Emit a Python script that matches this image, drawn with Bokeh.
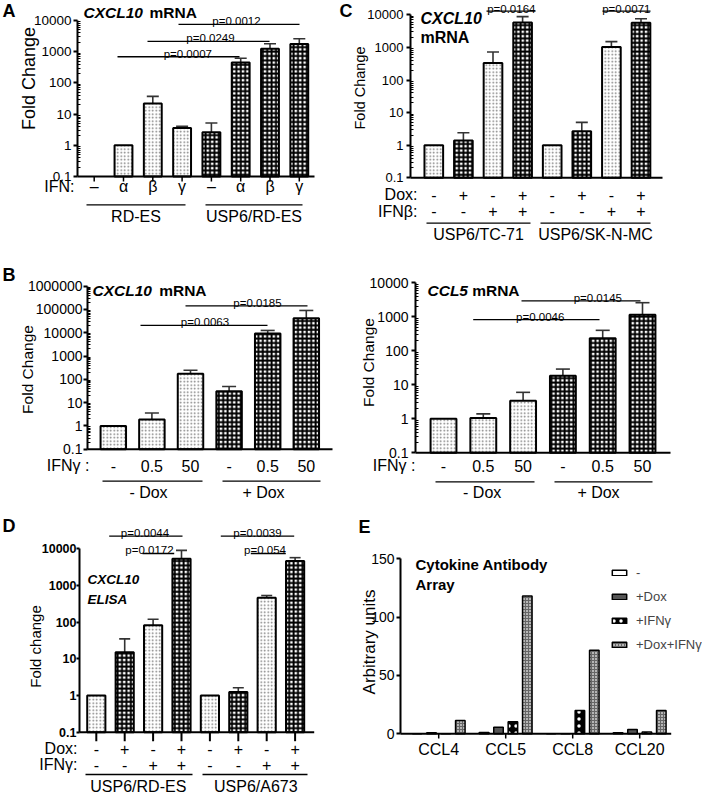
import math
from bokeh.plotting import figure
from bokeh.layouts import column, row
from bokeh.models import (Range1d, FixedTicker, CustomJSTickFormatter, Label,
                          ColumnDataSource, Whisker, TeeHead, Legend, LegendItem)
from bokeh.embed import file_html
from bokeh.resources import INLINE
from bokeh.core.properties import value

NAN = float("nan")
FONT = "Liberation Sans"

# ============================ DATA ============================
# Panel A : CXCL10 mRNA, RD-ES vs USP6/RD-ES treated with IFN
a_ifn = ["–", "α", "β", "γ", "–", "α", "β", "γ"]
a_group = ["RD-ES", "USP6/RD-ES"]
a_fold = [NAN, 1.0, 22.0, 3.6, 2.6, 450.0, 1250.0, 1750.0]
a_err = [NAN, NAN, 37.0, 4.1, 5.2, 620.0, 1800.0, 2600.0]
a_usp6 = [0, 0, 0, 0, 1, 1, 1, 1]
a_p = ["p=0.0007", "p=0.0249", "p=0.0012"]
a_p_level = [690.0, 2150.0, 7550.0]

# Panel C : CXCL10 mRNA, Dox / IFNbeta
c_dox = ["-", "+", "-", "+", "-", "+", "-", "+"]
c_ifnb = ["-", "-", "+", "+", "-", "-", "+", "+"]
c_group = ["USP6/TC-71", "USP6/SK-N-MC"]
c_fold = [1.0, 1.4, 330.0, 5800.0, 1.0, 2.7, 1030.0, 5700.0]
c_err = [NAN, 2.4, 720.0, 8800.0, NAN, 5.0, 1500.0, 7600.0]
c_p = ["p=0.0164", "p=0.0071"]
c_p_level = [12900.0, 12900.0]

# Panel B : IFNgamma dose, -/+ Dox
b_ifng = ["-", "0.5", "50", "-", "0.5", "50"]
b_group = ["- Dox", "+ Dox"]
b_dox = [0, 0, 0, 1, 1, 1]
b1_fold = [1.0, 1.9, 175.0, 31.0, 9200.0, 42000.0]
b1_err = [NAN, 3.6, 245.0, 49.0, 12500.0, 90000.0]
b1_p = ["p=0.0063", "p=0.0185"]
b1_p_level = [20800.0, 141000.0]
b2_fold = [1.0, 1.05, 3.4, 18.5, 235.0, 1150.0]
b2_err = [NAN, 1.4, 6.0, 29.0, 400.0, 2600.0]
b2_p = ["p=0.0046", "p=0.0145"]
b2_p_level = [830.0, 2950.0]

# Panel D : CXCL10 ELISA
d_dox = ["-", "+", "-", "+", "-", "+", "-", "+"]
d_ifng = ["-", "-", "+", "+", "-", "-", "+", "+"]
d_group = ["USP6/RD-ES", "USP6/A673"]
d_fold = [1.0, 15.0, 82.0, 5300.0, 1.0, 1.25, 460.0, 4600.0]
d_err = [NAN, 35.0, 120.0, 9000.0, NAN, 1.62, 530.0, 5700.0]
d_p = ["p=0.0044", "p=0.0172", "p=0.0039", "p=0.054"]
d_p_level = [21900.0, 7400.0, 21900.0, 7400.0]

# Panel E : cytokine antibody array
e_cats = ["CCL4", "CCL5", "CCL8", "CCL20"]
e_series = ["-", "+Dox", "+IFNγ", "+Dox+IFNγ"]
e_none = [0.0, 1.2, 0.0, 1.0]
e_dox = [1.0, 5.7, 0.0, 3.7]
e_ifng = [0.0, 10.3, 20.0, 1.5]
e_both = [11.4, 118.0, 71.5, 20.0]

# ============================ STYLE / LAYOUT ============================
DOT = dict(fill_color="white", hatch_pattern="dot", hatch_color="#7a7a7a",
           hatch_scale=3.5, hatch_weight=1.0)
CHK = dict(fill_color="white", hatch_pattern="cross", hatch_color="black",
           hatch_scale=4.4, hatch_weight=1.9)
E_STY = [dict(fill_color="white"),
         dict(fill_color="#555555"),
         dict(fill_color="black", hatch_pattern="dot", hatch_color="white",
              hatch_scale=7, hatch_weight=3),
         dict(fill_color="#b5b5b5", hatch_pattern="cross", hatch_color="#666666",
              hatch_scale=3, hatch_weight=1)]


class Geo:
    """pixel geometry of one panel (reference-image coordinates)"""
    def __init__(s, ox, mt, w, h, fl, fr, y0, dec, x0, sp):
        s.ox, s.mt, s.w, s.h, s.fl, s.fr = ox, mt, w, h, fl, fr
        s.y0, s.dec, s.x0, s.sp = y0, dec, x0, sp

    def xd(s, px):
        return (px - s.x0) / s.sp

    def yd(s, py):
        return 10.0 ** (-1.0 + (s.y0 - py) / s.dec)


class LinGeo(Geo):
    def yd(s, py):
        return (s.y0 - py) / s.dec


def base_fig(g, log=True):
    kw = dict(width=g.w, height=g.h, output_backend="svg", toolbar_location=None,
              x_axis_location=None, title=None,
              x_range=Range1d(g.xd(g.ox), g.xd(g.ox + g.w)),
              y_range=Range1d(g.yd(g.mt + g.h), g.yd(g.mt)),
              min_border_left=0, min_border_right=0,
              min_border_top=0, min_border_bottom=0)
    if log:
        kw["y_axis_type"] = "log"
    p = figure(**kw)
    p.outline_line_color = None
    p.grid.visible = False
    p.background_fill_color = "white"
    p.border_fill_color = "white"
    p.yaxis[0].fixed_location = g.xd(g.fl)
    return p


def style_yaxis(p, ticks, minors, bounds, size, bold=False, tick_out=4, standoff=2, fmt=None):
    ax = p.yaxis[0]
    ax.ticker = FixedTicker(ticks=ticks, minor_ticks=minors)
    ax.bounds = bounds
    if fmt is not None:
        ax.formatter = fmt
    ax.axis_line_width = 2
    ax.axis_line_color = "black"
    ax.major_tick_line_width = 2
    ax.major_tick_line_color = "black"
    ax.major_tick_out = tick_out
    ax.major_tick_in = 0
    ax.minor_tick_line_width = 1
    ax.minor_tick_line_color = "black"
    ax.minor_tick_out = 0
    ax.minor_tick_in = 3
    ax.major_label_text_font = FONT
    ax.major_label_text_font_size = size
    ax.major_label_text_font_style = "bold" if bold else "normal"
    ax.major_label_text_color = "black"
    ax.major_label_standoff = standoff


def log_ticks(top_exp, with_minor=True):
    majors = [10.0 ** k for k in range(-1, top_exp + 1)]
    minors = [m * 10.0 ** k for k in range(-1, top_exp) for m in range(2, 10)] if with_minor else []
    return majors, minors


LOGFMT = CustomJSTickFormatter(code="return tick < 1 ? tick.toFixed(1) : tick.toFixed(0);")


def T(p, xs, ys, texts, size, style="normal", align="center", baseline="middle", yoff=0):
    p.text(x=list(xs), y=list(ys), text=list(texts), text_font=value(FONT),
           text_font_size=value(size), text_font_style=value(style),
           text_align=value(align), text_baseline=value(baseline),
           text_color="black", y_offset=yoff)


def L(p, x, y, text, size, style="normal", align="left", baseline="middle", angle=0.0):
    p.add_layout(Label(x=x, y=y, text=text, text_font=FONT, text_font_size=size,
                       text_font_style=style, text_align=align, text_baseline=baseline,
                       angle=angle, text_color="black"))


def seg(p, x0, x1, y0, y1, w=1.3):
    p.segment(x0=list(x0), x1=list(x1), y0=list(y0), y1=list(y1),
              line_color="black", line_width=w)


def bars(p, fold, err, flags, bw, cap, base=0.1):
    xs = list(range(len(fold)))
    for flag, sty in ((0, DOT), (1, CHK)):
        idx = [i for i in xs if flags[i] == flag and not math.isnan(fold[i])]
        src = ColumnDataSource(dict(x=idx, top=[fold[i] for i in idx]))
        p.vbar(x="x", top="top", bottom=base, width=bw, source=src,
               line_color="black", line_width=2, **sty)
    ei = [i for i in xs if not math.isnan(err[i])]
    esrc = ColumnDataSource(dict(x=ei, top=[fold[i] for i in ei], err=[err[i] for i in ei]))
    p.add_layout(Whisker(source=esrc, base="x", lower="top", upper="err", dimension="height",
                         upper_head=TeeHead(size=cap, line_color="#333333", line_width=1.6),
                         lower_head=None, line_color="#333333", line_width=1.6))


def pvals(p, g, texts, levels, spans, size="11.5px", yoff=-3):
    seg(p, [g.xd(a) for a, b, c in spans], [g.xd(b) for a, b, c in spans], levels, levels, 1.3)
    T(p, [g.xd(c) for a, b, c in spans], levels, texts, size, baseline="alphabetic", yoff=yoff)


def groups(p, g, names, spans, line_y, label_y, label_x, size="16px"):
    seg(p, [g.xd(a) for a, b in spans], [g.xd(b) for a, b in spans],
        [g.yd(line_y)] * len(spans), [g.yd(line_y)] * len(spans), 1.3)
    T(p, [g.xd(x) for x in label_x], [g.yd(label_y)] * len(names), names, size)


HALF_PI = math.pi / 2
LETTER = "18px"

# ---------------------------- Panel A ----------------------------
gA = Geo(8, 5, 337, 243, 85, 343, 181.0, 31.2, 101.7, 29.3)
pA = base_fig(gA)
mj, mn = log_ticks(4)
style_yaxis(pA, mj, mn, (0.1, 1e4), "13.5px", fmt=LOGFMT)
bars(pA, a_fold, a_err, a_usp6, 0.61, 12)
seg(pA, [gA.xd(85)], [gA.xd(322)], [0.1], [0.1], 2)
seg(pA, range(len(a_fold)), range(len(a_fold)), [0.1] * 8, [gA.yd(186)] * 8, 1.5)
T(pA, range(len(a_ifn)), [gA.yd(191)] * 8, a_ifn, "16px")
L(pA, gA.xd(82), gA.yd(191), "IFN:", "16px", align="right")
groups(pA, gA, a_group, [(94, 193), (213, 310)], 209.3, 220.5, [143.5, 261.5])
pvals(pA, gA, a_p, a_p_level, [(125, 247, 195.3), (155, 277, 218), (186, 307, 244)])
T(pA, [gA.xd(91)], [gA.yd(17)], ["CXCL10"], "15.5px", "bold italic", align="left")
T(pA, [gA.xd(157)], [gA.yd(17)], ["mRNA"], "15.5px", "bold", align="left")
L(pA, gA.xd(36), gA.yd(83), "Fold Change", "18px", align="center", angle=HALF_PI)
L(pA, gA.xd(10), gA.yd(15.5), "A", LETTER, "bold")

# ---------------------------- Panel C ----------------------------
gC = Geo(345, 5, 365, 243, 418, 708, 182.3, 32.6, 441.3, 29.6)
pC = base_fig(gC)
style_yaxis(pC, mj, mn, (0.1, 1e4), "13px", tick_out=4, standoff=3, fmt=LOGFMT)
c_flag = [1 if d == "+" else 0 for d in c_dox]
bars(pC, c_fold, c_err, c_flag, 0.63, 12)
seg(pC, [gC.xd(418)], [gC.xd(670)], [0.1], [0.1], 2)
T(pC, range(8), [gC.yd(199)] * 8, c_dox, "16px")
T(pC, range(8), [gC.yd(215.7)] * 8, c_ifnb, "16px")
L(pC, gC.xd(425), gC.yd(199), "Dox:", "16px", align="right")
L(pC, gC.xd(425), gC.yd(215.7), "IFNβ:", "16px", align="right")
groups(pC, gC, c_group, [(434, 538), (548, 658)], 227.7, 238.5, [486, 603])
pvals(pC, gC, c_p, c_p_level, [(494, 543, 518.8), (610, 658, 633.8)], yoff=-2)
T(pC, [gC.xd(428)], [gC.yd(23)], ["CXCL10"], "16px", "bold italic", align="left")
T(pC, [gC.xd(428)], [gC.yd(42)], ["mRNA"], "16px", "bold", align="left")
L(pC, gC.xd(367), gC.yd(92.5), "Fold Change", "14.5px", align="center", angle=HALF_PI)
L(pC, gC.xd(347), gC.yd(15.5), "C", LETTER, "bold")

# ---------------------------- Panel B (left) ----------------------------
gB1 = Geo(8, 255, 337, 262, 95, 343, 460.7, 23.3, 120.8, 38.6)
pB1 = base_fig(gB1)
mj6, mn6 = log_ticks(6)
style_yaxis(pB1, mj6, mn6, (0.1, 1e6), "14px", tick_out=4, standoff=1, fmt=LOGFMT)
bars(pB1, b1_fold, b1_err, b_dox, 0.66, 14)
seg(pB1, [gB1.xd(95)], [gB1.xd(340)], [0.1], [0.1], 2)
T(pB1, range(6), [gB1.yd(477)] * 6, b_ifng, "16px")
L(pB1, gB1.xd(97), gB1.yd(477), "IFNγ :", "16px", align="right")
groups(pB1, gB1, b_group, [(110, 210), (230, 328)], 492.7, 503.5, [156, 271])
pvals(pB1, gB1, b1_p, b1_p_level, [(148, 275, 212.5), (193, 315, 265)])
T(pB1, [gB1.xd(100)], [gB1.yd(301.7)], ["CXCL10"], "15.5px", "bold italic", align="left")
T(pB1, [gB1.xd(166.7)], [gB1.yd(301.7)], ["mRNA"], "15.5px", "bold", align="left")
L(pB1, gB1.xd(35), gB1.yd(381), "Fold Change", "15.5px", align="center", angle=HALF_PI)
L(pB1, gB1.xd(10), gB1.yd(286), "B", LETTER, "bold")

# ---------------------------- Panel B (right) ----------------------------
gB2 = Geo(345, 255, 365, 262, 423, 708, 464.3, 34.0, 451.0, 39.8)
pB2 = base_fig(gB2)
style_yaxis(pB2, mj, mn, (0.1, 1e4), "14px", tick_out=4, standoff=3, fmt=LOGFMT)
bars(pB2, b2_fold, b2_err, b_dox, 0.65, 14)
seg(pB2, [gB2.xd(423)], [gB2.xd(678)], [0.1], [0.1], 2)
T(pB2, range(6), [gB2.yd(477.3)] * 6, b_ifng, "16px")
L(pB2, gB2.xd(423), gB2.yd(477.3), "IFNγ :", "16px", align="right")
groups(pB2, gB2, b_group, [(443, 542), (562, 660)], 493.3, 504, [489.7, 606])
pvals(pB2, gB2, b2_p, b2_p_level, [(480.7, 607, 547.7), (529, 648, 605.3)])
T(pB2, [gB2.xd(435)], [gB2.yd(302)], ["CCL5"], "15.5px", "bold italic", align="left")
T(pB2, [gB2.xd(479.7)], [gB2.yd(302)], ["mRNA"], "15.5px", "bold", align="left")
L(pB2, gB2.xd(375.5), gB2.yd(374), "Fold Change", "15.5px", align="center", angle=HALF_PI)

# ---------------------------- Panel D ----------------------------
gD = Geo(8, 521, 337, 289, 87, 343, 747.7, 36.7, 103.8, 28.4)
pD = base_fig(gD)
mjd, mnd = log_ticks(4, with_minor=False)
style_yaxis(pD, mjd, mnd, (0.1, 1e4), "12.5px", bold=True, tick_out=3, standoff=0, fmt=LOGFMT)
d_flag = [1 if d == "+" else 0 for d in d_dox]
bars(pD, d_fold, d_err, d_flag, 0.64, 11)
seg(pD, [gD.xd(87)], [gD.xd(321.7)], [0.1], [0.1], 2)
seg(pD, range(8), range(8), [0.1] * 8, [gD.yd(756.7)] * 8, 2)
T(pD, range(8), [gD.yd(764.3)] * 8, d_dox, "16px")
T(pD, range(8), [gD.yd(780)] * 8, d_ifng, "16px")
L(pD, gD.xd(85), gD.yd(764.3), "Dox:", "16px", align="right")
L(pD, gD.xd(85), gD.yd(780), "IFNγ:", "16px", align="right")
groups(pD, gD, d_group, [(93, 200), (210, 315)], 790, 801.7, [145.8, 263.3])
pvals(pD, gD, d_p, d_p_level, [(116.7, 190, 152.5), (150, 181.7, 157),
                               (228.3, 301.7, 265), (258.3, 293.3, 272.5)])
T(pD, [gD.xd(95)], [gD.yd(595)], ["CXCL10"], "13.5px", "bold italic", align="left")
T(pD, [gD.xd(95)], [gD.yd(615)], ["ELISA"], "13.5px", "bold italic", align="left")
L(pD, gD.xd(42.5), gD.yd(662), "Fold change", "15px", align="center", angle=HALF_PI)
L(pD, gD.xd(10), gD.yd(541.5), "D", LETTER, "bold")

# ---------------------------- Panel E ----------------------------
gE = LinGeo(345, 521, 365, 289, 408, 710, 749.3, 58.4 / 50.0, 446.2, 67.0)
pE = base_fig(gE, log=False)
style_yaxis(pE, [0, 50, 100, 150], [], (0, 150), "14px", tick_out=4, standoff=2)
E_OFF = [-0.3225, -0.1075, 0.1075, 0.3225]
rends = []
for k, vals in enumerate([e_none, e_dox, e_ifng, e_both]):
    src = ColumnDataSource(dict(x=[i + E_OFF[k] for i in range(len(e_cats))], top=vals))
    r = pE.vbar(x="x", top="top", bottom=0, width=0.142, source=src,
                line_color="black", line_width=1.5, **E_STY[k])
    rends.append(r)
seg(pE, [gE.xd(408)], [gE.xd(678.7)], [0], [0], 2)
seg(pE, range(4), range(4), [0] * 4, [gE.yd(754)] * 4, 1.5)
T(pE, range(len(e_cats)), [gE.yd(765)] * 4, e_cats, "16px")
T(pE, [gE.xd(423)], [gE.yd(580)], ["Cytokine Antibody"], "15px", "bold", align="left")
T(pE, [gE.xd(423)], [gE.yd(600)], ["Array"], "15px", "bold", align="left")
L(pE, gE.xd(376.5), gE.yd(657.5), "Arbitrary units", "17px", align="center", angle=HALF_PI)
L(pE, gE.xd(366), gE.yd(542.5), "E", LETTER, "bold")
legend = Legend(items=[LegendItem(label=n, renderers=[r]) for n, r in zip(e_series, rends)],
                location=(618 - 345, 810 - 658 - 10), orientation="vertical",
                glyph_width=18, glyph_height=7, label_height=16, spacing=8,
                padding=0, margin=0, border_line_color=None, background_fill_alpha=0,
                label_standoff=8, label_text_font=FONT, label_text_font_size="13px")
pE.add_layout(legend)

layout = column(row(pA, pC), row(pB1, pB2), row(pD, pE))
open("out.html", "w").write(file_html(layout, INLINE))
